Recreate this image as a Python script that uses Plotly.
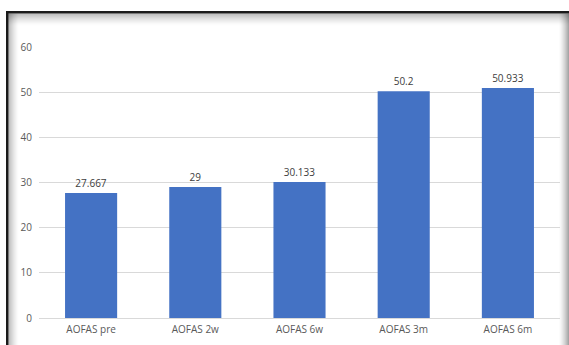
import plotly.graph_objects as go

categories = ["AOFAS pre", "AOFAS 2w", "AOFAS 6w", "AOFAS 3m", "AOFAS 6m"]
values = [27.667, 29, 30.133, 50.2, 50.933]
labels = ["27.667", "29", "30.133", "50.2", "50.933"]
y_ticks = [0, 10, 20, 30, 40, 50, 60]

W, H = 569, 345
ML, MR, MT, MB = 39, 9, 47, 27
PW, PH = W - ML - MR, H - MT - MB


def px_x(x):
    return (x - ML) / PW


def px_y(y):
    return (H - MB - y) / PH


fig = go.Figure()
fig.add_trace(go.Bar(
    x=categories, y=values,
    text=labels, textposition="outside", cliponaxis=False,
    textfont=dict(family="Open Sans", size=10, color="#404040"),
    marker=dict(color="#4472C4", line=dict(width=0)),
    width=0.5,
))

shapes = []


def rect(x0, y0, x1, y1, color, opacity):
    shapes.append(dict(type="rect", xref="paper", yref="paper",
                       x0=px_x(x0), x1=px_x(x1), y0=px_y(y0), y1=px_y(y1),
                       fillcolor=color, opacity=opacity, line=dict(width=0),
                       layer="below"))


# top frame line and shadow
rect(6, 11, 569, 13.5, "#1a1a1a", 1)
for i in range(12):
    rect(8, 13.5 + i, 569, 14.5 + i, "#000000", 0.28 * (1 - i / 12) ** 1.5)
# left frame line and shadow
rect(6, 11, 8.5, 345, "#1a1a1a", 1)
for i in range(10):
    rect(8.5 + i, 13.5, 9.5 + i, 345, "#000000", 0.28 * (1 - i / 10) ** 1.5)
# right shadow
for i in range(10):
    rect(568 - i, 13.5, 569 - i, 345, "#000000", 0.35 * (1 - i / 10) ** 1.5)

fig.update_layout(
    width=W, height=H,
    margin=dict(l=ML, r=MR, t=MT, b=MB, pad=0),
    paper_bgcolor="white", plot_bgcolor="white",
    showlegend=False, bargap=0.5,
    shapes=shapes,
    font=dict(family="Open Sans", size=10, color="#595959"),
    xaxis=dict(showgrid=False, showline=True, linecolor="#D9D9D9", linewidth=1,
               ticks="", tickfont=dict(size=10, color="#595959"),
               ticklabelstandoff=2),
    yaxis=dict(range=[0, 60], tickvals=y_ticks, showgrid=True,
               gridcolor="#D9D9D9", gridwidth=1, zeroline=False,
               showline=False, ticks="", ticklabelstandoff=6,
               tickfont=dict(size=10, color="#595959")),
)

fig.write_html("out.html")
